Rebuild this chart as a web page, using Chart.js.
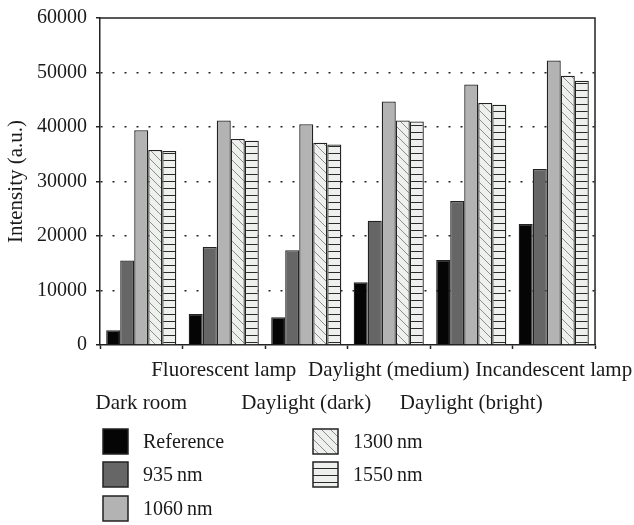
<!DOCTYPE html>
<html lang="en">
<head>
    <meta charset="UTF-8">
    <title>Intensity</title>
    <script src="https://cdn.jsdelivr.net/npm/chart.js"></script>
    <style>
        body { margin: 0; background: #fff; }
        #chart { display: block; }
    </style>
</head>
<body>
    <canvas id="chart" width="634" height="525"></canvas>

    <script>
        const categories = ['Dark room', 'Fluorescent lamp', 'Daylight (dark)', 'Daylight (medium)', 'Daylight (bright)', 'Incandescent lamp'];
        const seriesNames = ['Reference', '935\u2009nm', '1060\u2009nm', '1300\u2009nm', '1550\u2009nm'];
        const reference = [2700, 5700, 5100, 11500, 15600, 22200];
        const nm935 = [15500, 18000, 17400, 22800, 26400, 32300];
        const nm1060 = [39400, 41200, 40500, 44700, 47800, 52200];
        const nm1300 = [35800, 37800, 37100, 41200, 44400, 49400];
        const nm1550 = [35600, 37500, 36800, 41000, 44100, 48500];
        const yTicks = [0, 10000, 20000, 30000, 40000, 50000, 60000];

        const FONT = '"Liberation Serif", "DejaVu Serif", serif';
        const INK = '#1a1a1a';

        // hatch fills for the two light series
        function diagonalHatch() {
            const c = document.createElement('canvas');
            c.width = 9; c.height = 9;
            const g = c.getContext('2d');
            g.fillStyle = '#eef0ee';
            g.fillRect(0, 0, 9, 9);
            g.strokeStyle = '#8c8c8c';
            g.lineWidth = 1;
            g.beginPath();
            g.moveTo(-1, -1); g.lineTo(10, 10);
            g.moveTo(-1, 8); g.lineTo(1, 10);
            g.moveTo(8, -1); g.lineTo(10, 1);
            g.stroke();
            return g.createPattern(c, 'repeat');
        }

        function horizontalHatch() {
            const c = document.createElement('canvas');
            c.width = 8; c.height = 7;
            const g = c.getContext('2d');
            g.fillStyle = '#eef0ee';
            g.fillRect(0, 0, 8, 7);
            g.fillStyle = '#2a2a2a';
            g.fillRect(0, 6, 8, 1);
            return g.createPattern(c, 'repeat');
        }

        const fills = ['#050505', '#666666', '#b3b3b3', diagonalHatch(), horizontalHatch()];
        const values = [reference, nm935, nm1060, nm1300, nm1550];

        // top and right frame lines of the plot
        const framePlugin = {
            id: 'frame',
            beforeDatasetsDraw(chart) {
                const { ctx, chartArea: a } = chart;
                ctx.save();
                ctx.strokeStyle = '#222';
                ctx.lineWidth = 1.5;
                ctx.beginPath();
                ctx.moveTo(a.left, a.top);
                ctx.lineTo(a.right, a.top);
                ctx.lineTo(a.right, a.bottom);
                ctx.stroke();
                ctx.restore();
            }
        };

        // legend in two columns, filled column by column
        const legendPlugin = {
            id: 'gridLegend',
            afterDraw(chart) {
                const { ctx } = chart;
                const colX = [103, 313];
                const rowY = [429, 462, 496];
                ctx.save();
                ctx.font = '20px ' + FONT;
                ctx.textBaseline = 'alphabetic';
                chart.data.datasets.forEach((ds, i) => {
                    const x = colX[Math.floor(i / 3)];
                    const y = rowY[i % 3];
                    ctx.fillStyle = ds.backgroundColor;
                    ctx.fillRect(x, y, 25, 25);
                    ctx.strokeStyle = '#222';
                    ctx.lineWidth = 1.5;
                    ctx.strokeRect(x, y, 25, 25);
                    ctx.fillStyle = INK;
                    ctx.fillText(ds.label, x + 40, y + 19);
                });
                ctx.restore();
            }
        };

        new Chart(document.getElementById('chart'), {
            type: 'bar',
            data: {
                labels: categories,
                datasets: seriesNames.map((name, i) => ({
                    label: name,
                    data: values[i],
                    backgroundColor: fills[i],
                    borderColor: '#222',
                    borderWidth: 1.3,
                    categoryPercentage: 0.85,
                    barPercentage: 1.0
                }))
            },
            options: {
                responsive: false,
                devicePixelRatio: 1,
                animation: false,
                layout: { padding: { top: 18, right: 39, left: 0, bottom: 0 } },
                plugins: {
                    legend: { display: false },
                    tooltip: { enabled: false }
                },
                scales: {
                    x: {
                        afterFit: s => {
                            s.height = 180;
                            s.paddingLeft = 0;
                            s.paddingRight = 0;
                        },
                        grid: {
                            drawOnChartArea: false,
                            drawTicks: true,
                            tickLength: 4,
                            tickColor: '#222',
                            tickWidth: 1.5
                        },
                        border: { display: true, color: '#222', width: 1.5 },
                        ticks: {
                            autoSkip: false,
                            maxRotation: 0,
                            padding: 5,
                            color: INK,
                            font: { family: FONT, size: 21, lineHeight: 1.57 },
                            // alternate the labels over two rows
                            callback: (v, i) => i % 2 ? [categories[i], ''] : ['', categories[i]]
                        }
                    },
                    y: {
                        min: 0,
                        max: 60000,
                        afterFit: s => {
                            s.width = 100;
                            s.paddingTop = 0;
                            s.paddingBottom = 0;
                        },
                        afterBuildTicks: s => { s.ticks = yTicks.map(v => ({ value: v })); },
                        grid: {
                            color: c => (c.tick && c.tick.value > 0 && c.tick.value < 60000) ? '#222' : 'rgba(0,0,0,0)',
                            lineWidth: 1.5,
                            drawTicks: true,
                            tickLength: 4,
                            tickColor: '#222',
                            tickWidth: 1.5
                        },
                        border: { display: true, color: '#222', width: 1.5, dash: [2, 10] },
                        ticks: {
                            padding: 9,
                            color: INK,
                            font: { family: FONT, size: 20 },
                            callback: v => String(v)
                        },
                        title: {
                            display: true,
                            text: 'Intensity (a.u.)',
                            color: INK,
                            font: { family: FONT, size: 21 },
                            padding: { top: 4, bottom: 0 }
                        }
                    }
                }
            },
            plugins: [framePlugin, legendPlugin]
        });
    </script>
</body>
</html>
